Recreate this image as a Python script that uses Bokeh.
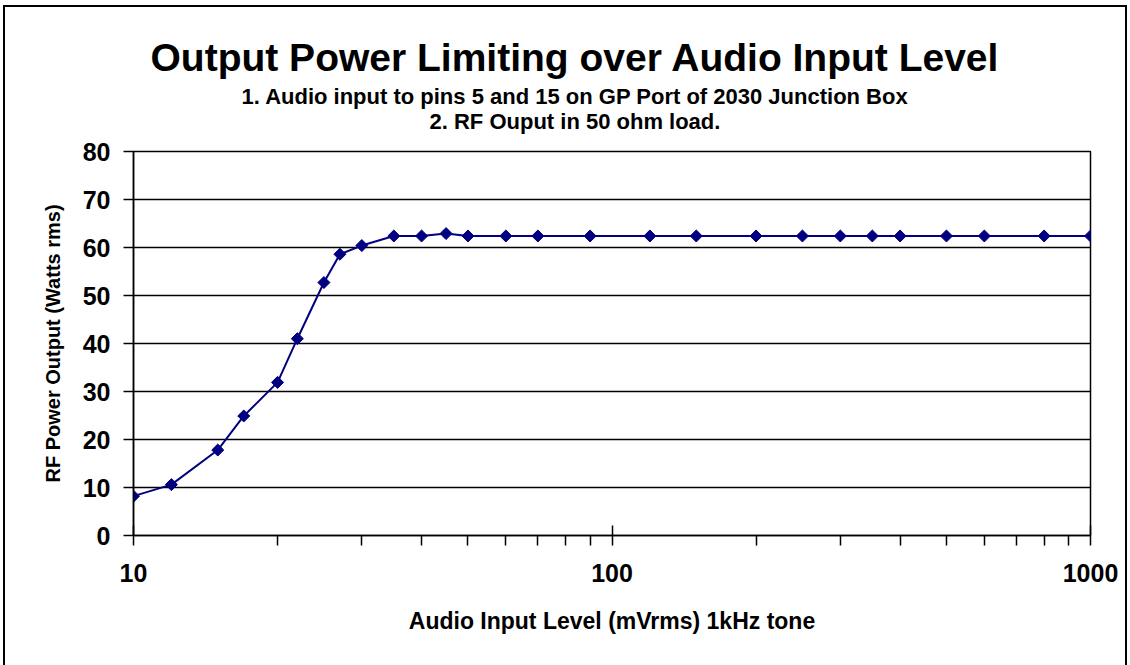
from bokeh.plotting import figure
from bokeh.models import (Range1d, FixedTicker, BasicTickFormatter, Title,
                          ColumnDataSource)
from bokeh.embed import file_html
from bokeh.resources import INLINE
import math

# ---- data ----
audio_mv = [10, 12, 15, 17, 20, 22, 25, 27, 30, 35, 40, 45, 50, 60, 70, 90,
            120, 150, 200, 250, 300, 350, 400, 500, 600, 800, 1000]
rf_watts = [8.2, 10.6, 17.8, 24.9, 31.9, 41.0, 52.7, 58.6, 60.4, 62.4, 62.4,
            62.9, 62.4, 62.4, 62.4, 62.4, 62.4, 62.4, 62.4, 62.4, 62.4, 62.4,
            62.4, 62.4, 62.4, 62.4, 62.4]
x_ticks = [10, 100, 1000]
x_tick_labels = ["10", "100", "1000"]
x_minor = [20, 30, 40, 50, 60, 70, 80, 90, 200, 300, 400, 500, 600, 700, 800, 900]
y_ticks = [0, 10, 20, 30, 40, 50, 60, 70, 80]

title_text = "Output Power Limiting over Audio Input Level"
sub1 = "1. Audio input to pins 5 and 15 on GP Port of 2030 Junction Box"
sub2 = "2. RF Ouput in 50 ohm load."
x_label = "Audio Input Level (mVrms) 1kHz tone"
y_label = "RF Power Output (Watts rms)"

FONT = "Liberation Sans"
W, H = 1128, 665

p = figure(width=W, height=H, x_axis_type="log", title=None,
           x_range=Range1d(10, 1000), y_range=Range1d(0, 80),
           output_backend="svg", toolbar_location=None,
           min_border_left=133, min_border_top=151,
           min_border_right=W - 1090, min_border_bottom=H - 535,
           styles={"background-color": "white",
                   "box-shadow": ("inset 3px 0 0 0 white, inset 0 5px 0 0 white, "
                                  "inset -1px 0 0 0 white, "
                                  "inset 5px 0 0 0 black, inset 0 7px 0 0 black, "
                                  "inset -3px 0 0 0 black")})

p.background_fill_color = "white"
p.border_fill_color = None
p.outline_line_color = "black"
p.outline_line_width = 1.5

src = ColumnDataSource(dict(x=audio_mv, y=rf_watts))
p.line("x", "y", source=src, line_color="#000080", line_width=2)
p.scatter("x", "y", source=src, marker="square", size=8.5, angle=math.pi / 4,
          fill_color="#000080", line_color="#000080")

# x axis
xa = p.xaxis[0]
xa.ticker = FixedTicker(ticks=x_ticks, minor_ticks=x_minor)
xa.formatter = BasicTickFormatter(use_scientific=False)
xa.major_label_overrides = {t: l for t, l in zip(x_ticks, x_tick_labels)}
xa.axis_line_color = "black"
xa.axis_line_width = 1.5
xa.major_tick_in = 10
xa.major_tick_out = 10
xa.major_tick_line_width = 1.5
xa.minor_tick_in = 0
xa.minor_tick_out = 10
xa.minor_tick_line_width = 1.5
xa.major_label_standoff = 18
xa.major_label_text_font = FONT
xa.major_label_text_font_style = "bold"
xa.major_label_text_font_size = "25px"
xa.major_label_text_color = "black"
xa.axis_label = x_label
xa.axis_label_text_font = FONT
xa.axis_label_text_font_style = "bold"
xa.axis_label_text_font_size = "23px"
xa.axis_label_text_color = "black"
xa.axis_label_standoff = 23

# y axis
ya = p.yaxis[0]
ya.ticker = FixedTicker(ticks=y_ticks)
ya.axis_line_color = "black"
ya.axis_line_width = 1.5
ya.major_tick_in = 0
ya.major_tick_out = 10
ya.major_tick_line_width = 1.5
ya.minor_tick_line_color = None
ya.major_label_standoff = 13
ya.major_label_text_font = FONT
ya.major_label_text_font_style = "bold"
ya.major_label_text_font_size = "25px"
ya.major_label_text_color = "black"
ya.axis_label = y_label
ya.axis_label_text_font = FONT
ya.axis_label_text_font_style = "bold"
ya.axis_label_text_font_size = "20px"
ya.axis_label_text_color = "black"
ya.axis_label_standoff = 16

p.xgrid.grid_line_color = None
p.ygrid.grid_line_color = "black"
p.ygrid.grid_line_width = 1.5
p.ygrid.ticker = FixedTicker(ticks=y_ticks)

# small blank spacer between the plot frame and the subtitle lines
p.add_layout(Title(text=" ", text_font_size="1px", standoff=15), "above")

# titles: first added sits closest to the plot frame
# offsets place each centred line at x ~575 (left-aligned from frame left)
for txt, size, off, stand in [(sub2, "22px", 296, 0),
                              (sub1, "22px", 108, -5),
                              (title_text, "39px", 17, 11)]:
    p.add_layout(Title(text=txt, align="left", offset=off, standoff=stand,
                       text_font=FONT, text_font_style="bold",
                       text_font_size=size, text_color="black"), "above")

open("out.html", "w").write(file_html(p, INLINE))
